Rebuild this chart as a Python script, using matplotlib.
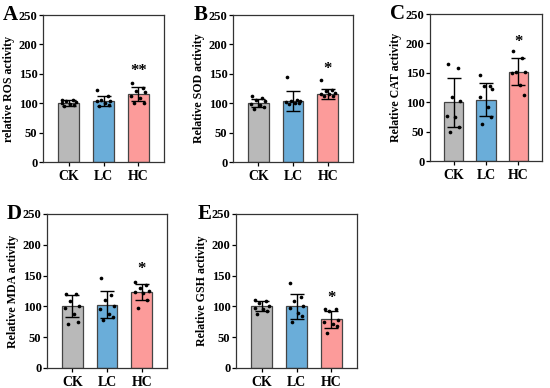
import matplotlib
matplotlib.use("Agg")
import matplotlib.pyplot as plt
import numpy as np

plt.rcParams['font.family'] = ['Liberation Serif', 'DejaVu Serif']
plt.rcParams['font.weight'] = 'bold'

groups = ["CK", "LC", "HC"]
colors = ["#B9B9B9", "#6AADD9", "#FC9B9A"]

# Panel A - ROS
ros_mean = [100, 104, 116]
ros_sd = [5, 9, 12]
ros_pts = [[106, 105, 104, 102, 100, 98, 97, 96],
           [122, 113, 105, 104, 103, 100, 97, 96],
           [135, 126, 121, 119, 113, 108, 101, 100]]
# Panel B - SOD
sod_mean = [100, 104, 116]
sod_sd = [7, 17, 9]
sod_pts = [[112, 108, 105, 103, 99, 97, 93, 90],
           [144, 105, 104, 103, 102, 101, 100, 98],
           [140, 122, 120, 118, 116, 115, 113, 112]]
# Panel C - CAT
cat_mean = [100, 104, 152]
cat_sd = [42, 28, 23]
cat_pts = [[165, 158, 108, 102, 77, 74, 58, 50],
           [147, 127, 127, 122, 108, 92, 75, 63],
           [187, 176, 152, 151, 150, 130, 113]]
# Panel D - MDA
mda_mean = [100, 103, 124]
mda_sd = [18, 22, 13]
mda_pts = [[120, 120, 108, 100, 97, 88, 75, 72],
           [146, 118, 110, 100, 95, 88, 82, 78],
           [140, 135, 130, 125, 124, 122, 110, 97]]
# Panel E - GSH
gsh_mean = [100, 100, 79]
gsh_sd = [8, 20, 14]
gsh_pts = [[110, 108, 105, 100, 97, 95, 92, 88],
           [138, 115, 108, 100, 98, 90, 85, 75],
           [96, 95, 93, 78, 75, 72, 68, 57]]

panels = [
    ("A", "relative ROS activity", ros_mean, ros_sd, ros_pts, "**", 155),
    ("B", "Relative SOD activity", sod_mean, sod_sd, sod_pts, "*", 158),
    ("C", "Relative CAT activity", cat_mean, cat_sd, cat_pts, "*", 203),
    ("D", "Relative MDA activity", mda_mean, mda_sd, mda_pts, "*", 160),
    ("E", "Relative GSH activity", gsh_mean, gsh_sd, gsh_pts, "*", 113),
]

W, H = 550, 388
rects = [
    (43, 15, 164, 162),
    (233, 15, 353, 162),
    (430, 14, 542, 161),
    (47, 214, 167, 368),
    (236, 214, 357, 368),
]

fig = plt.figure(figsize=(5.5, 3.88), dpi=100)
offs = [-0.18, 0.12, -0.06, 0.2, -0.2, 0.05, 0.16, -0.12]

for (letter, ylabel, means, sds, pts, star, star_y), (x0, y0, x1, y1) in zip(panels, rects):
    ax = fig.add_axes([x0 / W, 1 - y1 / H, (x1 - x0) / W, (y1 - y0) / H])
    x = np.arange(len(groups))
    ax.bar(x, means, width=0.6, color=colors, edgecolor="#444444", linewidth=0.9, zorder=1)
    ax.errorbar(x, means, yerr=sds, fmt='none', ecolor='black', elinewidth=1.0,
                capsize=5, capthick=1.0, zorder=3)
    for i, p in enumerate(pts):
        xs = [i + offs[k % len(offs)] for k in range(len(p))]
        ax.scatter(xs, p, s=7, color='black', zorder=4, linewidths=0)
    ax.text(2, star_y, star, ha='center', va='center', fontsize=12, fontweight='bold')
    ax.set_xlim(-0.73, 2.73)
    ax.set_ylim(0, 250)
    ax.set_yticks([0, 50, 100, 150, 200, 250])
    ax.set_xticks(x)
    ax.set_xticklabels(groups, fontsize=10, fontweight='bold')
    ax.tick_params(axis='y', labelsize=9, length=3, width=0.9, pad=1)
    ax.tick_params(axis='x', length=3, width=0.9, pad=3)
    for lab in ax.get_yticklabels():
        lab.set_fontweight('bold')
    for s in ax.spines.values():
        s.set_linewidth(0.9)
        s.set_color('#333333')
    ax.set_ylabel(ylabel, fontsize=8.6, fontweight='bold', labelpad=3)
    ax.annotate(letter, xy=(0, 1.0), xycoords='axes fraction',
                xytext=(-18, 0), textcoords='offset points',
                fontsize=15, fontweight='bold', ha='right', va='center')

fig.savefig("out.png", dpi=100)
